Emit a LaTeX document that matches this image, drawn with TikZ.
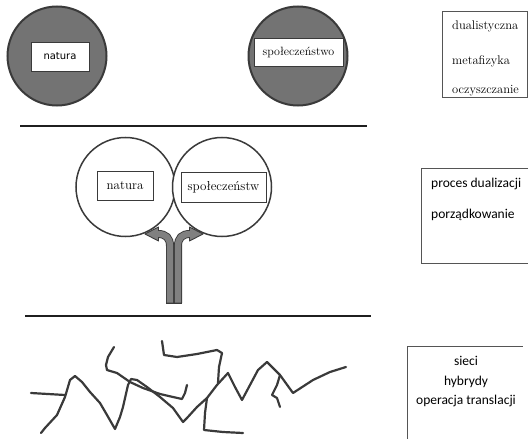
\documentclass[tikz,border=0pt]{standalone}
\usepackage{fontspec}
\newfontfamily\dvs{DejaVu Sans}
\newfontfamily\carl{Carlito}
\definecolor{circfill}{HTML}{737373}
\definecolor{darkline}{HTML}{3A3A3A}
\definecolor{arrgray}{HTML}{808080}
\definecolor{boxline}{HTML}{555555}
\begin{document}
\begin{tikzpicture}[x=1pt,y=-1pt,
  darkcirc/.style={circle,draw=darkline,line width=2pt,fill=circfill,minimum size=99pt,inner sep=0pt},
  whitecirc/.style={circle,draw=darkline,line width=1.5pt,fill=white,minimum size=99pt,inner sep=0pt},
  labelbox/.style={draw=darkline,line width=0.8pt,fill=white,inner sep=0pt,align=center},
  sidetext/.style={inner sep=0pt,anchor=base west,font=\rmfamily\fontsize{12.5}{16}\selectfont},
  sanstext/.style={inner sep=0pt,font=\carl\fontsize{13.5}{16}\selectfont},
  rule/.style={line width=2.6pt,draw=black!88},
  scribble/.style={line width=2.2pt,draw=darkline,line cap=round,line join=round},
  sideframe/.style={draw=boxline,line width=0.8pt}
]
\useasboundingbox (0,0) rectangle (531,439);

% top row
\node[darkcirc] (c1) at (57,56) {};
\node[darkcirc] (c2) at (298,56) {};
\node[labelbox,minimum width=58pt,minimum height=29pt,font=\dvs\fontsize{10}{12}\selectfont] (n1) at (60,56.5) {natura};
\node[labelbox,minimum width=89pt,minimum height=28pt,font=\rmfamily\fontsize{12}{14}\selectfont] (s1) at (298.5,52) {społeczeństwo};

\draw[sideframe] (442,11) rectangle (527,97);
\node[sidetext] (t1) at (452,30) {dualistyczna};
\node[sidetext] (t2) at (452,64) {metafizyka};
\node[sidetext] (t3) at (452,93) {oczyszczanie};

% rules
\coordinate (r1a) at (20,126); \coordinate (r1b) at (367,126);
\coordinate (r2a) at (25,316); \coordinate (r2b) at (371,316);
\draw[rule] (r1a) -- (r1b);
\draw[rule] (r2a) -- (r2b);

% middle row
\node[whitecirc] (c3) at (125.5,187) {};
\node[whitecirc] (c4) at (222,187) {};
\node[labelbox,minimum width=56pt,minimum height=29pt,font=\rmfamily\fontsize{13}{15}\selectfont] (n2) at (125,185.5) {natura};
\node[labelbox,minimum width=85pt,minimum height=30pt,font=\rmfamily\fontsize{13}{15}\selectfont] (s2) at (223.5,187) {społeczeństw};

% split arrow
\draw[line width=8pt,darkline] (170,303) -- (170,246) .. controls (170,238) and (166,234) .. (158,234);
\draw[line width=8pt,darkline] (178,303) -- (178,246) .. controls (178,238) and (182,234) .. (190,234);
\draw[line width=6.2pt,arrgray] (170,302.5) -- (170,246) .. controls (170,238) and (166,234) .. (158,234);
\draw[line width=6.2pt,arrgray] (178,302.5) -- (178,246) .. controls (178,238) and (182,234) .. (190,234);
\draw[line width=0.9pt,darkline] (166,303) -- (182,303);
\draw[line width=0.9pt,darkline,fill=arrgray,line join=round] (158.5,227) -- (145,234) -- (158.5,241) -- cycle;
\draw[line width=0.9pt,darkline,fill=arrgray,line join=round] (189.5,227) -- (203,234) -- (189.5,241) -- cycle;
\fill[arrgray] (156,231) rectangle (160,237);
\fill[arrgray] (188,231) rectangle (192,237);

\draw[sideframe] (528,168) -- (421,168) -- (421,263) -- (528,263);
\node[sanstext,anchor=base west] (p1) at (431,187) {proces dualizacji};
\node[sanstext,anchor=base west] (p2) at (431,218) {porządkowanie};

% bottom scribbles
\draw[scribble] (31,393) -- (65,395);
\draw[scribble] (41,433) -- (45,428) -- (57,415) -- (65,397) -- (70,380) -- (75,376) -- (82,382) -- (90,392) -- (100,403) -- (107,415) -- (115,429) -- (120,417) -- (123,407) -- (128,385) -- (131,379) -- (137,380) -- (147,387) -- (160,397) -- (173,408) -- (183,422) -- (187,418) -- (197,407) -- (207,398) -- (217,385) -- (228,373) -- (235,387) -- (242,400) -- (250,385) -- (258,370) -- (267,362) -- (280,375) -- (293,393) -- (313,380) -- (330,372) -- (346,367);
\draw[scribble] (114,347) -- (108,357) -- (106,365) -- (107,370) -- (117,373) -- (130,382) -- (143,388) -- (160,394) -- (173,397) -- (182,399) -- (185,393) -- (187,385);
\draw[scribble] (162,341) -- (164,355) -- (177,357) -- (197,354) -- (217,350) -- (222,353) -- (219,367) -- (218,383);
\draw[scribble] (207,398) -- (205,413) -- (204,430) -- (223,432) -- (243,433);
\draw[scribble] (280,375) -- (277,385) -- (272,395) -- (277,398) -- (280,407);

\draw[sideframe] (407,439) -- (407,346) -- (523,346);
\node[sanstext] (h1) at (466,365) [anchor=base] {sieci};
\node[sanstext] (h2) at (466,385) [anchor=base] {hybrydy};
\node[sanstext] (h3) at (466,404) [anchor=base] {operacja translacji};
\end{tikzpicture}
\end{document}
